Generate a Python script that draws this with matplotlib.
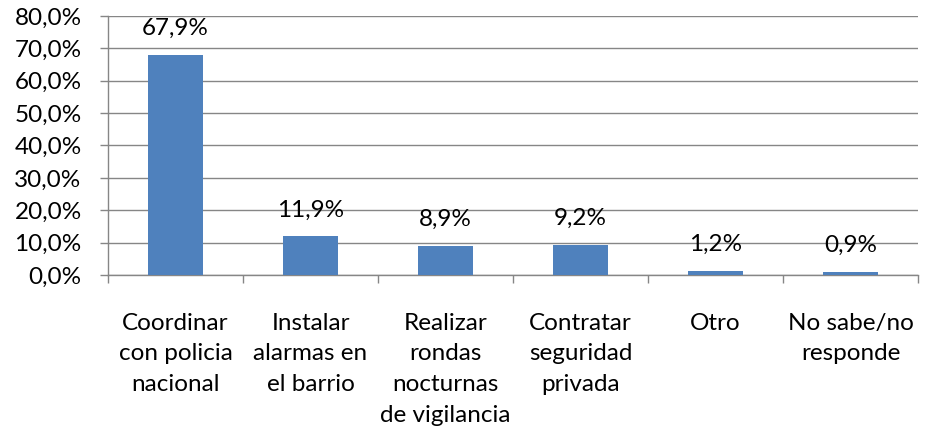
import numpy as np
import matplotlib
matplotlib.use('Agg')
import matplotlib.pyplot as plt
from matplotlib.ticker import FixedLocator

# datos del grafico
categorias = ['Coordinar\ncon policia\nnacional', 'Instalar\nalarmas en\nel barrio',
              'Realizar\nrondas\nnocturnas\nde vigilancia', 'Contratar\nseguridad\nprivada',
              'Otro', 'No sabe/no\nresponde']
valores = [67.9, 11.9, 8.9, 9.2, 1.2, 0.9]
y_ticks = [0, 10, 20, 30, 40, 50, 60, 70, 80]

plt.rcParams['font.family'] = ['Lato', 'DejaVu Sans']
gris = '#868686'
fs = 17.5

fig = plt.figure(figsize=(9.25, 4.32), dpi=100)
ax = fig.add_axes([0.1168, 0.3634, 0.8756, 0.5996])

x = np.arange(len(categorias))
barras = ax.bar(x, valores, width=0.41, color='#4F81BD', zorder=3)

# etiquetas de valores
for xi, v in zip(x, valores):
    ax.annotate('{:.1f}%'.format(v).replace('.', ','), (xi, v),
                xytext=(0, 14.4), textcoords='offset points',
                ha='center', va='baseline', fontsize=fs, zorder=4)

ax.set_xlim(-0.5, len(categorias) - 0.5)
ax.set_ylim(0, 80)
ax.set_yticks(y_ticks)
ax.set_yticklabels(['{:.1f}%'.format(t).replace('.', ',') for t in y_ticks])
ax.yaxis.grid(True, color=gris, linewidth=1.0, zorder=0)

ax.set_xticks(x)
ax.set_xticklabels(categorias, multialignment='center', linespacing=1.57)
ax.xaxis.set_minor_locator(FixedLocator(np.arange(-0.5, len(categorias), 1.0)))
ax.tick_params(axis='x', which='major', length=0, pad=27, labelsize=fs)
ax.tick_params(axis='x', which='minor', length=6, width=1, color=gris, direction='out')
ax.tick_params(axis='y', length=6, width=1, color=gris, pad=13, labelsize=fs)

for s in ['top', 'right']:
    ax.spines[s].set_visible(False)
for s in ['left', 'bottom']:
    ax.spines[s].set_color(gris)
    ax.spines[s].set_linewidth(1.0)

plt.savefig('out.png', dpi=100)
